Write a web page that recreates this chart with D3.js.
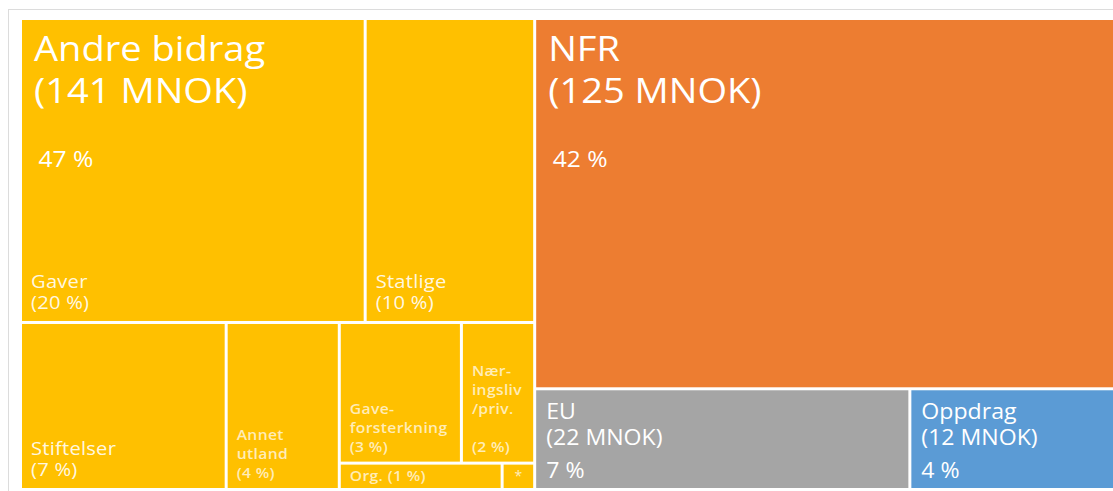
<!DOCTYPE html>
<html lang="no">
<head>
    <meta charset="UTF-8">
    <title>Finansiering</title>
    <style>
        body { margin: 0; background: #fff; }
        text { font-family: "Open Sans", sans-serif; }
    </style>
</head>
<body></body>
<script src="https://cdn.jsdelivr.net/npm/d3@7"></script>
<script>
    // top level sources
    const groupNames = ["Andre bidrag", "NFR", "EU", "Oppdrag"];
    const groupMnok = [141, 125, 22, 12];
    const groupShare = ["47 %", "42 %", "7 %", "4 %"];
    const groupColors = ["#FFC000", "#ED7D31", "#A5A5A5", "#5B9BD5"];

    // breakdown of "Andre bidrag" (MNOK)
    const subNames = ["Gaver", "Statlige", "Stiftelser", "Annet utland", "Gaveforsterkning", "Næringsliv/priv.", "Org.", "*"];
    const subMnok = [61, 30, 20, 11, 10, 6, 2.5, 0.5];
    const subShare = ["20 %", "10 %", "7 %", "4 %", "3 %", "2 %", "1 %", ""];
    const subWrap = [["Gaver"], ["Statlige"], ["Stiftelser"], ["Annet", "utland"], ["Gave-", "forsterkning"],
                     ["Nær-", "ingsliv", "/priv.", ""], ["Org."], ["*"]];

    let width = 1113;
    let height = 491;

    let svg = d3.select("body")
                .append("svg")
                .attr("width", width)
                .attr("height", height);

    // light frame around the chart
    svg.append("rect")
        .attr("x", 8.5).attr("y", 9.5)
        .attr("width", 1120).attr("height", 500)
        .style("fill", "none")
        .style("stroke", "#dcdcdc");

    const sub = i => ({ name: subNames[i], value: subMnok[i], si: i });
    const grp = i => ({ name: groupNames[i], value: groupMnok[i], gi: i });

    // nesting only controls the slice/dice rows of the layout
    const tree = { children: [
        { name: groupNames[0], gi: 0, children: [
            { children: [sub(0), sub(1)] },
            { children: [sub(2), sub(3), { children: [
                { children: [sub(4), sub(5)] },
                { children: [sub(6), sub(7)] }
            ] }] }
        ] },
        { children: [
            grp(1),
            { children: [grp(2), grp(3)] }
        ] }
    ] };

    const root = d3.hierarchy(tree).sum(d => d.children ? 0 : d.value);

    d3.treemap()
        .tile(d3.treemapSliceDice)
        .size([1091, 468])
        .paddingInner(3)
        .round(false)(root);

    const g = svg.append("g").attr("transform", "translate(22,20)");

    const colorOf = n => {
        const a = n.ancestors().find(d => d.data.gi !== undefined);
        return groupColors[a.data.gi];
    };

    g.selectAll("rect.cell")
        .data(root.leaves())
        .enter()
        .append("rect")
        .attr("class", "cell")
        .attr("x", d => d.x0)
        .attr("y", d => d.y0)
        .attr("width", d => d.x1 - d.x0)
        .attr("height", d => d.y1 - d.y0)
        .style("fill", colorOf);

    // one text element per label, lines as tspans at given offsets
    function label(x, y, lines, offs, size, sx, opts = {}) {
        const t = g.append("text")
            .attr("transform", `translate(${x},${y}) scale(${sx},1)`)
            .attr("font-size", size)
            .attr("font-weight", opts.weight || 400)
            .attr("letter-spacing", opts.ls || 0)
            .attr("text-anchor", opts.anchor || "start")
            .style("fill", "#fff")
            .style("fill-opacity", opts.op || 1);
        lines.forEach((s, k) => {
            if (!s) return;
            t.append("tspan")
                .attr("x", (opts.dx && opts.dx[k]) || 0)
                .attr("y", offs[k])
                .attr("font-size", (opts.sizes && opts.sizes[k]) || size)
                .text(s);
        });
    }

    // main group labels, top left of their cell
    root.descendants().filter(d => d.data.gi !== undefined).forEach(d => {
        const i = d.data.gi;
        const lines = [groupNames[i], `(${groupMnok[i]} MNOK)`, groupShare[i]];
        if (i < 2) {
            label(d.x0 + 12, d.y0 + 41, lines, [0, 42, 106], 34, 1.12, { sizes: [34, 34, 22], dx: [0, 0, 4] });
        } else {
            label(d.x0 + 10, d.y0 + 29, lines, [0, 26, 59], 21, 1.1);
        }
    });

    // sub labels, stacked up from the bottom of the cell
    root.leaves().filter(d => d.data.si !== undefined).forEach(d => {
        const i = d.data.si;
        if (subNames[i] === "*") {
            label((d.x0 + d.x1) / 2, d.y1 - 7, ["*"], [0], 14, 1, { anchor: "middle", op: 0.75 });
            return;
        }
        const big = i < 3;
        const lines = subShare[i] && d.y1 - d.y0 < 30
            ? [subWrap[i][0] + ` (${subShare[i]})`]
            : subWrap[i].concat([`(${subShare[i]})`]);
        const size = big ? 18 : 14;
        const lh = big ? 21 : 19;
        const pad = big ? 12 : (lines.length === 1 ? 7 : 10);
        const y0 = d.y1 - pad - (lines.length - 1) * lh;
        label(d.x0 + 9, y0, lines, lines.map((s, k) => k * lh), size, 1.12,
              { weight: big ? 400 : 600, op: big ? 0.9 : 0.72, ls: big ? 0.2 : 0.3 });
    });
</script>
</html>
